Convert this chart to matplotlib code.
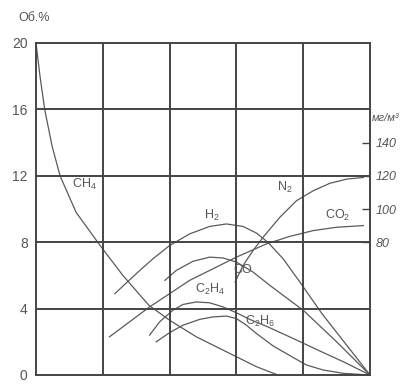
import numpy as np
import matplotlib
matplotlib.use("Agg")
import matplotlib.pyplot as plt

plt.rcParams['font.family'] = ['Liberation Sans', 'DejaVu Sans']
plt.rcParams['mathtext.fontset'] = 'custom'
plt.rcParams['mathtext.rm'] = 'Liberation Sans'
plt.rcParams['mathtext.it'] = 'Liberation Sans:italic'

# curves (x in grid columns, y in vol.%)
ch4_x = [0, 0.06, 0.13, 0.24, 0.36, 0.6, 0.96, 1.3, 1.69, 2.0, 2.4, 3.0, 3.3, 3.62]
ch4_y = [20, 18, 16, 13.8, 12, 9.8, 7.8, 6.0, 4.2, 3.3, 2.3, 1.1, 0.5, 0]

h2_x = [1.18, 1.5, 1.75, 2.0, 2.3, 2.6, 2.85, 3.1, 3.3, 3.47, 3.7, 3.95, 4.28, 4.65, 5.0]
h2_y = [4.9, 6.1, 7.0, 7.8, 8.5, 8.95, 9.1, 8.95, 8.55, 8.0, 7.0, 5.6, 3.7, 1.8, 0]

co_x = [1.93, 2.1, 2.35, 2.6, 2.8, 3.0, 3.25, 3.5, 4.0, 4.5, 5.0]
co_y = [5.7, 6.3, 6.85, 7.1, 7.05, 6.8, 6.2, 5.4, 3.9, 2.0, 0]

co2_x = [1.1, 1.4, 1.7, 2.0, 2.3, 2.65, 3.0, 3.45, 3.8, 4.15, 4.5, 4.9]
co2_y = [2.3, 3.2, 4.1, 4.9, 5.7, 6.4, 7.1, 7.9, 8.35, 8.7, 8.9, 9.0]

n2_x = [2.98, 3.1, 3.25, 3.4, 3.65, 3.9, 4.15, 4.4, 4.65, 4.9]
n2_y = [5.6, 6.6, 7.5, 8.3, 9.5, 10.5, 11.1, 11.55, 11.8, 11.9]

c2h4_x = [1.7, 1.85, 2.05, 2.2, 2.4, 2.6, 2.8, 3.0, 3.2, 3.47, 3.85, 4.22, 4.6, 5.0]
c2h4_y = [2.4, 3.2, 3.9, 4.25, 4.4, 4.35, 4.1, 3.75, 3.35, 2.9, 2.2, 1.5, 0.8, 0]

c2h6_x = [1.8, 2.0, 2.2, 2.45, 2.65, 2.85, 3.0, 3.15, 3.3, 3.55, 3.83, 4.05, 4.3, 4.6, 5.0]
c2h6_y = [2.0, 2.55, 3.0, 3.35, 3.5, 3.55, 3.4, 3.0, 2.5, 1.75, 1.1, 0.6, 0.3, 0.1, 0]

left_ticks = [0, 4, 8, 12, 16, 20]
right_ticks = [80, 100, 120, 140]

labels = [
    ('CH$_4$', 0.72, 11.5),
    ('H$_2$', 2.63, 9.6),
    ('N$_2$', 3.72, 11.3),
    ('CO$_2$', 4.52, 9.6),
    ('CO', 3.1, 6.3),
    ('C$_2$H$_4$', 2.6, 5.15),
    ('C$_2$H$_6$', 3.35, 3.2),
]

grid_c = '#444444'
line_c = '#5a5a5a'
text_c = '#555555'

fig = plt.figure(figsize=(4.1, 3.85), dpi=100)
ax = fig.add_axes([36/410, 10/385, 334/410, 332/385])

for xs, ys in [(ch4_x, ch4_y), (h2_x, h2_y), (co_x, co_y), (co2_x, co2_y),
               (n2_x, n2_y), (c2h4_x, c2h4_y), (c2h6_x, c2h6_y)]:
    ax.plot(xs, ys, color=line_c, lw=0.9, clip_on=False)

for xv in range(1, 5):
    ax.axvline(xv, color=grid_c, lw=1.4)
for yv in left_ticks[1:-1]:
    ax.axhline(yv, color=grid_c, lw=1.4)
for s in ax.spines.values():
    s.set_color(grid_c)
    s.set_linewidth(1.4)

ax.set_xlim(0, 5)
ax.set_ylim(0, 20)
ax.set_xticks([])
ax.set_yticks(left_ticks)
ax.tick_params(axis='y', length=0, pad=6, labelsize=10, labelcolor=text_c)

for txt, x, y in labels:
    ax.text(x, y, txt, fontsize=9, color=text_c, ha='center', va='center')

ax.text(-0.27, 21.5, 'Об.%', fontsize=9, color=text_c, ha='left', va='center')

# secondary scale on the right, mg/m3
ax2 = ax.twinx()
ax2.set_ylim(0, 200)
ax2.set_yticks(right_ticks)
ax2.set_yticklabels([str(v) for v in right_ticks], fontstyle='italic')
ax2.tick_params(axis='y', direction='in', length=6, width=1.0, color=grid_c,
                pad=4, labelsize=9, labelcolor=text_c)
for s in ax2.spines.values():
    s.set_visible(False)
ax2.text(1.005, 0.775, 'мг/м³', transform=ax2.transAxes, fontsize=8,
         fontstyle='italic', color=text_c, ha='left', va='center')

fig.savefig('out.png', dpi=100)
